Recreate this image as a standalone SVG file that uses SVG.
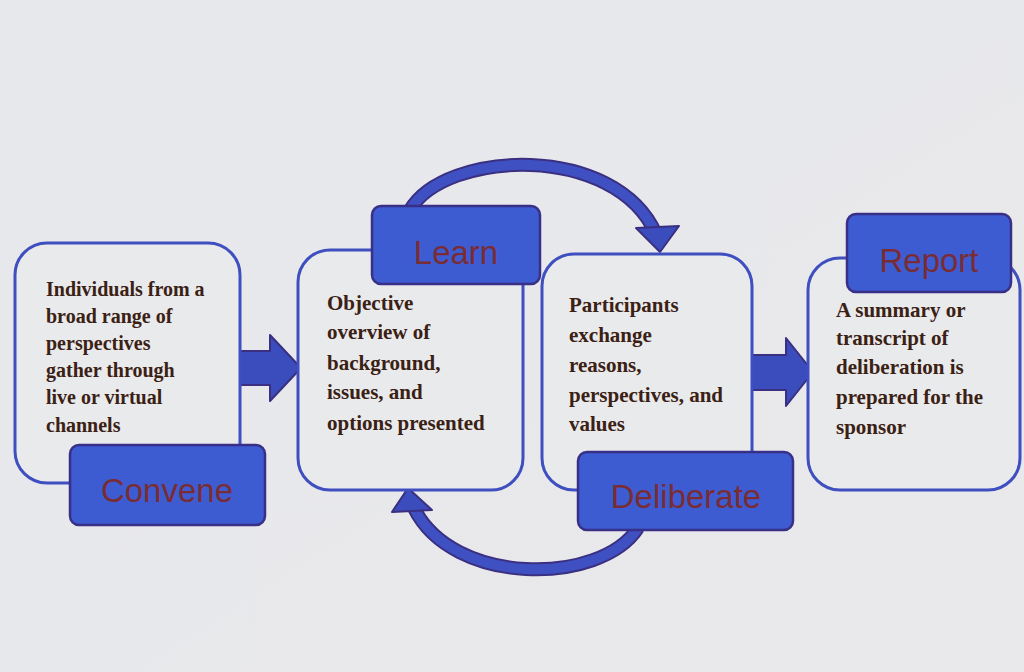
<svg xmlns="http://www.w3.org/2000/svg" width="1024" height="672" viewBox="0 0 1024 672">
<defs>
<linearGradient id="bg" x1="0" y1="0" x2="1" y2="1">
<stop offset="0" stop-color="#e7e8ec"/>
<stop offset="1" stop-color="#e9e9eb"/>
</linearGradient>
<style>
.frame{fill:#e9eaec;stroke:#3f4fc0;stroke-width:3}
.tag{fill:#3d5cd2;stroke:#3a2f86;stroke-width:2.5}
.tagtxt{font-family:"Liberation Sans",Arial,sans-serif;font-size:33px;fill:#7a2c34;text-anchor:middle}
.body{font-family:"Liberation Serif","Times New Roman",serif;font-weight:bold;font-size:20px;fill:#3b2114}
.big{font-size:21px}
.arr{fill:#3b4cbc;stroke:#3a2f80;stroke-width:2;stroke-linejoin:round}
.arcout{fill:none;stroke:#3a2f80;stroke-width:14}
.arcin{fill:none;stroke:#3f51c2;stroke-width:10}
</style>
</defs>
<rect width="1024" height="672" fill="url(#bg)"/>

<g id="connectors">
<polygon class="arr" points="237,351 270,351 270,335 301,368 270,401 270,385 237,385"/>
<polygon class="arr" points="752,355 786,355 786,338 813,372 786,406 786,390 752,390"/>
<path class="arcout" d="M410 210 C445 150 615 142 656 234"/>
<path class="arcin" d="M410 210 C445 150 615 142 656 234"/>
<polygon class="arr" points="636,228 679,226 660,252"/>
<path class="arcout" d="M638 528 C600 586 452 586 414 508"/>
<path class="arcin" d="M638 528 C600 586 452 586 414 508"/>
<polygon class="arr" points="392,512 432,510 408,488"/>
</g>

<g id="convene">
<rect class="frame" x="15" y="243" width="225" height="240" rx="32"/>
<rect class="tag" x="70" y="445" width="195" height="80" rx="9"/>
<text class="tagtxt" x="167" y="502">Convene</text>
<text class="body" x="46" y="296">Individuals from a</text>
<text class="body" x="46" y="323">broad range of</text>
<text class="body" x="46" y="350">perspectives</text>
<text class="body" x="46" y="377">gather through</text>
<text class="body" x="46" y="404">live or virtual</text>
<text class="body" x="46" y="432">channels</text>
</g>

<g id="learn">
<rect class="frame" x="298" y="250" width="225" height="240" rx="32"/>
<rect class="tag" x="372" y="206" width="168" height="78" rx="9"/>
<text class="tagtxt" x="456" y="264">Learn</text>
<text class="body big" x="327" y="310">Objective</text>
<text class="body big" x="327" y="339">overview of</text>
<text class="body big" x="327" y="370">background,</text>
<text class="body big" x="327" y="399">issues, and</text>
<text class="body big" x="327" y="430">options presented</text>
</g>

<g id="deliberate">
<rect class="frame" x="542" y="254" width="210" height="236" rx="32"/>
<rect class="tag" x="578" y="452" width="215" height="78" rx="9"/>
<text class="tagtxt" x="686" y="508">Deliberate</text>
<text class="body big" x="569" y="312">Participants</text>
<text class="body big" x="569" y="342">exchange</text>
<text class="body big" x="569" y="372">reasons,</text>
<text class="body big" x="569" y="402">perspectives, and</text>
<text class="body big" x="569" y="431">values</text>
</g>

<g id="report">
<rect class="frame" x="808" y="258" width="212" height="232" rx="32"/>
<rect class="tag" x="847" y="214" width="164" height="78" rx="9"/>
<text class="tagtxt" x="929" y="272">Report</text>
<text class="body big" x="836" y="317">A summary or</text>
<text class="body big" x="836" y="345">transcript of</text>
<text class="body big" x="836" y="374">deliberation is</text>
<text class="body big" x="836" y="404">prepared for the</text>
<text class="body big" x="836" y="434">sponsor</text>
</g>
</svg>
